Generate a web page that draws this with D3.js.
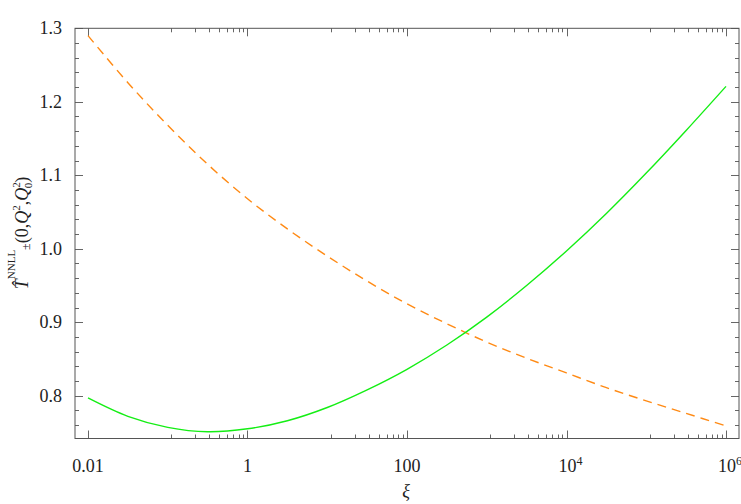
<!DOCTYPE html>
<html>
<head>
<meta charset="utf-8">
<script src="https://cdn.jsdelivr.net/npm/d3@7"></script>
<style>
  body { margin: 0; background: #fff; }
</style>
</head>
<body>
<div id="chart"></div>
<script>
// log10(xi) sample points
var logXi = [-2, -1.5, -1, -0.5, 0, 0.5, 1, 1.5, 2, 2.5, 3, 3.5, 4, 4.5, 5, 5.5, 6];
var greenVals = [0.797, 0.772, 0.757, 0.751, 0.755, 0.766, 0.784, 0.808, 0.836, 0.869, 0.907, 0.95, 0.997, 1.048, 1.103, 1.161, 1.221];
var orangeVals = [1.29, 1.226, 1.168, 1.115, 1.068, 1.027, 0.99, 0.956, 0.925, 0.898, 0.873, 0.851, 0.831, 0.811, 0.793, 0.776, 0.759];

var xMajor = [0.01, 1, 100, 1e4, 1e6];
var xLabels = [["0.01", ""], ["1", ""], ["100", ""], ["10", "4"], ["10", "6"]];
var yMajor = [0.8, 0.9, 1.0, 1.1, 1.2, 1.3];
var yLabels = ["0.8", "0.9", "1.0", "1.1", "1.2", "1.3"];

var W = 741, H = 504;
var box = { left: 75, right: 739, top: 28.3, bottom: 438.5 };
var serif = "'Liberation Serif', 'Times New Roman', Times, serif";

var svg = d3.select("#chart").append("svg")
  .attr("width", W).attr("height", H)
  .attr("font-family", serif);

var x = d3.scaleLog()
  .domain([Math.pow(10, -2.163), Math.pow(10, 6.163)])
  .range([box.left, box.right]);
var y = d3.scaleLinear()
  .domain([0.7418, 1.3])
  .range([box.bottom, box.top]);

// minor ticks
var xMinor = [];
for (var i = 0; i < xMajor.length - 1; i++) {
  var next = xMajor[i + 1];
  for (var k = 1; k <= 8; k++) xMinor.push(next * k / 9);
}
var yMinor = d3.range(0.74, 1.3001, 0.02).filter(function (v) {
  return Math.abs(v * 10 - Math.round(v * 10)) > 0.01 && v >= 0.7418;
});

var frame = svg.append("g");
var tickCol = "#666";

function vTicks(vals, len) {
  vals.forEach(function (v) {
    var px = Math.round(x(v)) + 0.5;
    frame.append("line").attr("x1", px).attr("x2", px)
      .attr("y1", box.bottom).attr("y2", box.bottom - len)
      .attr("stroke", tickCol);
    frame.append("line").attr("x1", px).attr("x2", px)
      .attr("y1", box.top).attr("y2", box.top + len)
      .attr("stroke", tickCol);
  });
}
function hTicks(vals, len) {
  vals.forEach(function (v) {
    var py = Math.round(y(v)) + 0.5;
    frame.append("line").attr("y1", py).attr("y2", py)
      .attr("x1", box.left).attr("x2", box.left + len)
      .attr("stroke", tickCol);
    frame.append("line").attr("y1", py).attr("y2", py)
      .attr("x1", box.right).attr("x2", box.right - len)
      .attr("stroke", tickCol);
  });
}
vTicks(xMajor, 8);
vTicks(xMinor, 4);
hTicks(yMajor, 8);
hTicks(yMinor, 4);

frame.append("rect")
  .attr("x", box.left).attr("y", box.top)
  .attr("width", box.right - box.left).attr("height", box.bottom - box.top)
  .attr("fill", "none").attr("stroke", "#555");

// tick labels
xMajor.forEach(function (v, i) {
  var t = svg.append("text")
    .attr("x", x(v)).attr("y", 472)
    .attr("text-anchor", "middle")
    .attr("font-size", 18).attr("fill", "#222");
  t.append("tspan").text(xLabels[i][0]);
  if (xLabels[i][1]) {
    t.attr("x", x(v) + 4);
    t.append("tspan").attr("dy", -7).attr("font-size", 12).text(xLabels[i][1]);
  }
});
yMajor.forEach(function (v, i) {
  svg.append("text")
    .attr("x", 62).attr("y", y(v) + 6)
    .attr("text-anchor", "end")
    .attr("font-size", 18).attr("fill", "#222")
    .text(yLabels[i]);
});

// axis titles
svg.append("text")
  .attr("x", 406).attr("y", 497)
  .attr("text-anchor", "middle")
  .attr("font-size", 18).attr("font-style", "italic").attr("fill", "#222")
  .text("ξ");

var yl = svg.append("text")
  .attr("transform", "translate(28,233) rotate(-90)")
  .attr("text-anchor", "middle")
  .attr("font-size", 18).attr("fill", "#222");
yl.append("tspan").attr("font-style", "italic").text("T\u0302");
yl.append("tspan").attr("dy", -13).attr("font-size", 11).text("NNLL");
yl.append("tspan").attr("dy", 15).attr("font-size", 12).text("±");
yl.append("tspan").attr("dy", -2).text("(0,");
yl.append("tspan").attr("font-style", "italic").text("Q");
yl.append("tspan").attr("dy", -8).attr("font-size", 11).text("2");
yl.append("tspan").attr("dy", 8).text(",");
yl.append("tspan").attr("font-style", "italic").text("Q");
yl.append("tspan").attr("dy", -8).attr("font-size", 11).text("2");
yl.append("tspan").attr("dx", -6).attr("dy", 12).attr("font-size", 11).text("0");
yl.append("tspan").attr("dy", -4).text(")");

// curves
var line = d3.line()
  .x(function (d) { return x(Math.pow(10, d[0])); })
  .y(function (d) { return y(d[1]); })
  .curve(d3.curveCatmullRom);

var plot = svg.append("g");
plot.append("path")
  .datum(d3.zip(logXi, orangeVals))
  .attr("d", line)
  .attr("fill", "none")
  .attr("stroke", "#ff8a14")
  .attr("stroke-width", 1.4)
  .attr("stroke-dasharray", "9,6");
plot.append("path")
  .datum(d3.zip(logXi, greenVals))
  .attr("d", line)
  .attr("fill", "none")
  .attr("stroke", "#14ee14")
  .attr("stroke-width", 1.4);
</script>
</body>
</html>
